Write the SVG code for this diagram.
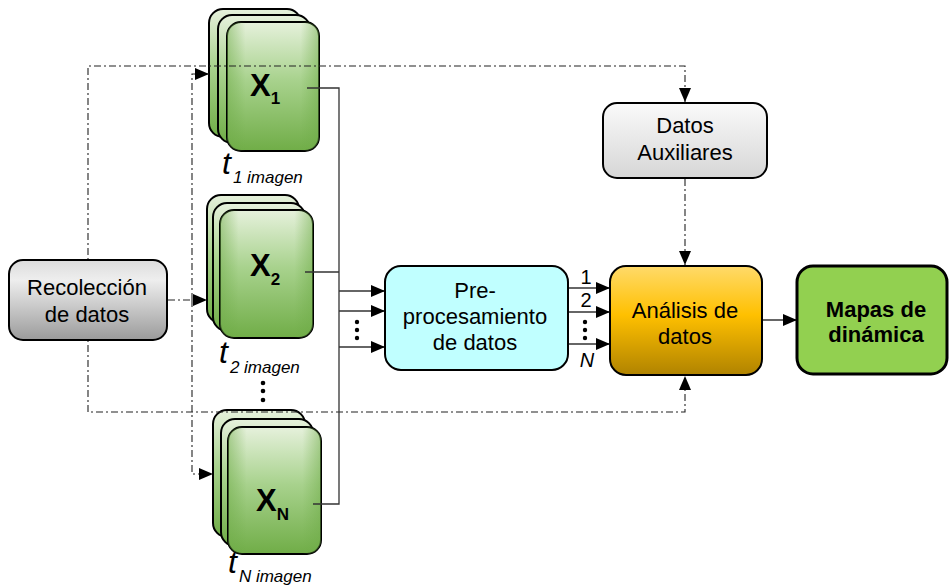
<svg xmlns="http://www.w3.org/2000/svg" width="949" height="586" viewBox="0 0 949 586">
<defs>
<linearGradient id="gGreen" x1="0" y1="0" x2="0" y2="1">
<stop offset="0" stop-color="#e6f1dc"/>
<stop offset="0.45" stop-color="#a8d28d"/>
<stop offset="1" stop-color="#70ad47"/>
</linearGradient>
<linearGradient id="gGreenH" x1="0" y1="0" x2="1" y2="0">
<stop offset="0" stop-color="#6eab47" stop-opacity="0.5"/>
<stop offset="0.2" stop-color="#6eab47" stop-opacity="0"/>
<stop offset="0.8" stop-color="#6eab47" stop-opacity="0"/>
<stop offset="1" stop-color="#6eab47" stop-opacity="0.5"/>
</linearGradient>
<linearGradient id="gGrey" x1="0" y1="0" x2="0" y2="1">
<stop offset="0" stop-color="#dcdcdc"/>
<stop offset="0.25" stop-color="#eeeeee"/>
<stop offset="1" stop-color="#9b9b9b"/>
</linearGradient>
<linearGradient id="gAux" x1="0" y1="0" x2="0" y2="1">
<stop offset="0" stop-color="#fafafa"/>
<stop offset="1" stop-color="#d6d6d6"/>
</linearGradient>
<linearGradient id="gGold" x1="0" y1="0" x2="0" y2="1">
<stop offset="0" stop-color="#ffda6a"/>
<stop offset="0.45" stop-color="#ffc000"/>
<stop offset="1" stop-color="#b08300"/>
</linearGradient>
<marker id="arr" markerUnits="userSpaceOnUse" markerWidth="14" markerHeight="12" refX="14" refY="6" orient="auto">
<path d="M0,0 L14,6 L0,12 z" fill="#000"/>
</marker>
</defs>
<style>
.card{stroke:#000;stroke-width:2;}
.box{stroke:#000;stroke-width:2;}
.lbl{font-family:"Liberation Sans",Arial,sans-serif;font-size:22px;fill:#000;text-anchor:middle;}
.xs{font-family:"Liberation Sans",Arial,sans-serif;font-weight:bold;fill:#000;}
.ti{font-family:"Liberation Sans",Arial,sans-serif;font-style:italic;fill:#000;}
.dash{fill:none;stroke:#222;stroke-width:1.1;stroke-dasharray:7,3,2,3;}
.solid{fill:none;stroke:#333;stroke-width:1.3;}
.arrow{marker-end:url(#arr);}
.num{font-family:"Liberation Sans",Arial,sans-serif;font-size:20px;fill:#000;text-anchor:middle;}
</style>
<rect width="949" height="586" fill="#fff"/>

<g id="stack1">
<rect class="card" x="209" y="9" width="92" height="128" rx="14" fill="url(#gGreen)"/>
<rect class="card" x="218" y="15" width="92" height="128" rx="14" fill="url(#gGreen)"/>
<rect class="card" x="227" y="22" width="92" height="129" rx="14" fill="url(#gGreen)"/>
<rect x="227" y="22" width="92" height="129" rx="14" fill="url(#gGreenH)"/>
<text class="xs" x="250" y="96" font-size="31">X<tspan font-size="17" dy="8">1</tspan></text>
<text class="ti" x="222" y="174" font-size="32">t<tspan font-size="17" dy="9" dx="2">1 imagen</tspan></text>
</g>

<g id="stack2">
<rect class="card" x="207" y="195" width="92" height="128" rx="14" fill="url(#gGreen)"/>
<rect class="card" x="213" y="203" width="92" height="128" rx="14" fill="url(#gGreen)"/>
<rect class="card" x="220" y="210" width="93" height="128" rx="14" fill="url(#gGreen)"/>
<rect x="220" y="210" width="93" height="128" rx="14" fill="url(#gGreenH)"/>
<text class="xs" x="250" y="276" font-size="31">X<tspan font-size="17" dy="9">2</tspan></text>
<text class="ti" x="219" y="363" font-size="32">t<tspan font-size="17" dy="10" dx="2">2 imagen</tspan></text>
</g>

<g id="stackN">
<rect class="card" x="213" y="410" width="92" height="127" rx="14" fill="url(#gGreen)"/>
<rect class="card" x="221" y="419" width="92" height="127" rx="14" fill="url(#gGreen)"/>
<rect class="card" x="228" y="427" width="93" height="127" rx="14" fill="url(#gGreen)"/>
<rect x="228" y="427" width="93" height="127" rx="14" fill="url(#gGreenH)"/>
<text class="xs" x="256" y="511" font-size="31">X<tspan font-size="17" dy="9">N</tspan></text>
<text class="ti" x="228" y="573" font-size="32">t<tspan font-size="17" dy="9" dx="2">N imagen</tspan></text>
</g>

<g id="dots-stacks">
<circle cx="263" cy="383" r="2.3"/>
<circle cx="263" cy="391" r="2.3"/>
<circle cx="263" cy="400" r="2.3"/>
</g>

<g id="connectors">
<path class="dash arrow" d="M88,300 L88,66 L685,66 L685,102"/>
<path class="dash arrow" d="M88,300 L88,412 L685,412 L685,376"/>
<path class="dash arrow" d="M685,179 L685,265"/>
<path class="dash arrow" d="M192,300 L192,74 L209,74"/>
<path class="dash arrow" d="M192,300 L192,474 L213,474"/>
<path class="dash arrow" d="M168,300 L207,300"/>
<path class="solid" d="M307,88 L339,88 L339,504 L313,504"/>
<path class="solid" d="M305,272 L339,272"/>
<path class="solid arrow" d="M339,291 L385,291"/>
<path class="solid arrow" d="M339,311 L385,311"/>
<path class="solid arrow" d="M339,347 L385,347"/>
<path class="solid arrow" d="M566,288 L610,288"/>
<path class="solid arrow" d="M566,312 L610,312"/>
<path class="solid arrow" d="M566,344 L610,344"/>
<path class="solid arrow" d="M763,320 L797,320"/>
<circle cx="357" cy="322" r="2.2"/>
<circle cx="357" cy="330" r="2.2"/>
<circle cx="357" cy="338" r="2.2"/>
<circle cx="585" cy="322" r="2.2"/>
<circle cx="585" cy="330" r="2.2"/>
<circle cx="585" cy="338" r="2.2"/>
<text class="num" x="586" y="284">1</text>
<text class="num" x="586" y="307">2</text>
<text class="num" x="587" y="367" font-style="italic">N</text>
</g>

<g id="recoleccion">
<rect class="box" x="9" y="260" width="158" height="80" rx="14" fill="url(#gGrey)"/>
<text class="lbl" x="87" y="295">Recolección</text>
<text class="lbl" x="87" y="322">de datos</text>
</g>

<g id="preprocesamiento">
<rect class="box" x="385" y="266" width="183" height="104" rx="16" fill="#c0ffff"/>
<text class="lbl" x="475" y="298">Pre-</text>
<text class="lbl" x="475" y="324">procesamiento</text>
<text class="lbl" x="475" y="350">de datos</text>
</g>

<g id="auxiliares">
<rect class="box" x="603" y="103" width="164" height="75" rx="14" fill="url(#gAux)"/>
<text class="lbl" x="685" y="133">Datos</text>
<text class="lbl" x="685" y="160">Auxiliares</text>
</g>

<g id="analisis">
<rect class="box" x="610" y="266" width="152" height="109" rx="16" fill="url(#gGold)"/>
<text class="lbl" x="685" y="318">Análisis de</text>
<text class="lbl" x="685" y="344">datos</text>
</g>

<g id="mapas">
<rect x="797" y="266" width="150" height="108" rx="16" fill="#92d050" stroke="#000" stroke-width="3"/>
<text class="lbl" x="876" y="317" font-weight="bold">Mapas de</text>
<text class="lbl" x="876" y="342" font-weight="bold">dinámica</text>
</g>
</svg>
